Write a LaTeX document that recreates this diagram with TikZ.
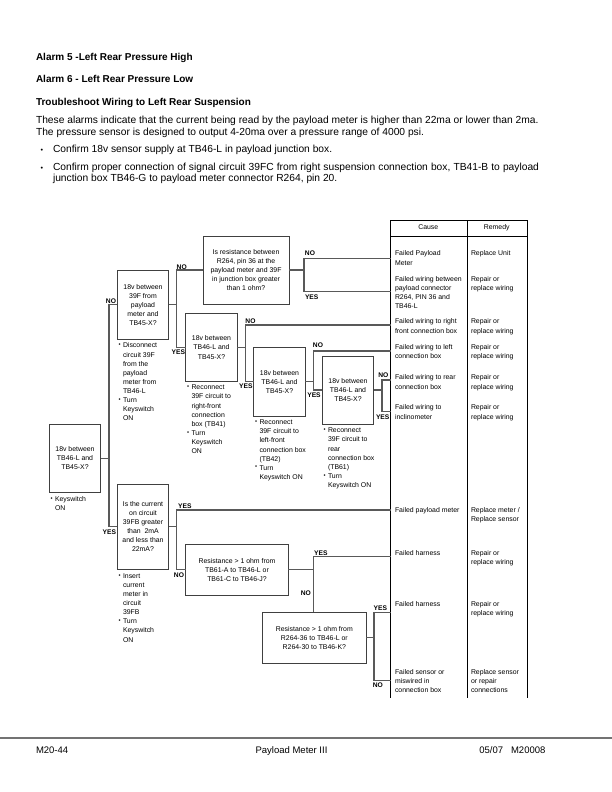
\documentclass[tikz,border=0pt]{standalone}
\usepackage{fontspec}
\setmainfont{Liberation Sans}
\usepackage{tikz}
\usetikzlibrary{positioning}
\usetikzlibrary{calc}

\newcommand{\chartfont}{\fontsize{6.9}{9.1}\selectfont}
\newcommand{\bulletmark}{\llap{\raisebox{1.3pt}{\scalebox{0.85}{\textbullet}}\hspace{2.4pt}}}

\begin{document}
\begin{tikzpicture}[x=1pt,y=-1pt,
    every node/.style={inner sep=0pt, outer sep=0pt},
    qbox/.style={draw=black!75, line width=0.8pt, align=center, font=\chartfont},
    smallq/.style={qbox, minimum width=51.4pt, minimum height=68.2pt},
    note/.style={align=left, font=\chartfont, anchor=north west},
    lab/.style={font=\bfseries\fontsize{6.7}{8}\selectfont},
    link/.style={draw=black!65, line width=1.1pt},
    tablerule/.style={draw=black, line width=0.9pt},
    titletext/.style={font=\bfseries\fontsize{10}{12}\selectfont, anchor=base west},
    bodytext/.style={font=\fontsize{10.25}{12}\selectfont, anchor=base west}]

    \useasboundingbox (0,0) rectangle (612,792);

    \node[titletext] (t1) at (36,60.8) {Alarm 5 -Left Rear Pressure High};
    \node[titletext] (t2) at (36,82.8) {Alarm 6 - Left Rear Pressure Low};
    \node[titletext] (t3) at (36,105.2) {Troubleshoot Wiring to Left Rear Suspension};

    \node[bodytext] (p1) at (36,123.5) {These alarms indicate that the current being read by the payload meter is higher than 22ma or lower than 2ma.};
    \node[bodytext] (p2) at (36,135) {The pressure sensor is designed to output 4-20ma over a pressure range of 4000 psi.};
    \node[bodytext] (d1) at (40.5,152.8) {\scalebox{0.7}{\textbullet}};
    \node[bodytext] (i1) at (53,152.8) {Confirm 18v sensor supply at TB46-L in payload junction box.};
    \node[bodytext] (d2) at (40.5,170.8) {\scalebox{0.7}{\textbullet}};
    \node[bodytext] (i2) at (53,170.8) {\hbox to 486pt{Confirm proper connection of signal circuit 39FC from right suspension connection box, TB41-B to payload}};
    \node[bodytext] (i3) at (53,181.5) {junction box TB46-G to payload meter connector R264, pin 20.};

    \node[smallq] (b1) at (75,458.3) {18v between\\TB46-L and\\TB45-X?};
    \node[smallq] (b2) at (143,304.85) {18v between\\39F from\\payload\\meter and\\TB45-X?};
    \node[qbox, minimum width=86pt, minimum height=68pt] (q1) at (246,270) {Is resistance between\\R264, pin 36 at the\\payload meter and 39F\\in junction box greater\\than 1 ohm?};
    \node[smallq] (b3) at (211.5,347.5) {18v between\\TB46-L and\\TB45-X?};
    \node[smallq] (b4) at (279.5,381.85) {18v between\\TB46-L and\\TB45-X?};
    \node[smallq] (b5) at (348,390) {18v between\\TB46-L and\\TB45-X?};
    \node[smallq, minimum height=85.3pt] (b6) at (143,526.65) {Is the current\\on circuit\\39FB greater\\than~ 2mA\\and less than\\22mA?};
    \node[qbox, minimum width=102.6pt, minimum height=51.7pt] (q2) at (237,569.85) {Resistance > 1 ohm from\\TB61-A to TB46-L or\\TB61-C to TB46-J?};
    \node[qbox, minimum width=103.3pt, minimum height=51pt] (q3) at (314.35,637.8) {Resistance > 1 ohm from\\R264-36 to TB46-L or\\R264-30 to TB46-K?};

    \node[note] (n1) at ([xshift=5.7pt,yshift=-4pt]b1.south west) {\bulletmark Keyswitch\\ON};
    \node[note] (n2) at ([xshift=5.7pt,yshift=-4pt]b2.south west) {\bulletmark Disconnect\\circuit 39F\\from the\\payload\\meter from\\TB46-L\\\bulletmark Turn\\Keyswitch\\ON};
    \node[note] (n3) at ([xshift=5.7pt,yshift=-3.5pt]b3.south west) {\bulletmark Reconnect\\39F circuit to\\right-front\\connection\\box (TB41)\\\bulletmark Turn\\Keyswitch\\ON};
    \node[note] (n4) at ([xshift=5.7pt,yshift=-4pt]b4.south west) {\bulletmark Reconnect\\39F circuit to\\left-front\\connection box\\(TB42)\\\bulletmark Turn\\Keyswitch ON};
    \node[note] (n5) at ([xshift=5.7pt,yshift=-4pt]b5.south west) {\bulletmark Reconnect\\39F circuit to\\rear\\connection box\\(TB61)\\\bulletmark Turn\\Keyswitch ON};
    \node[note] (n6) at ([xshift=5.7pt,yshift=-4.3pt]b6.south west) {\bulletmark Insert\\current\\meter in\\circuit\\39FB\\\bulletmark Turn\\Keyswitch\\ON};

    \foreach \x in {390.7,467.3,527}
        \draw[tablerule] (\x,220) -- (\x,698.3);
    \draw[tablerule] (390.7,220) -- (527,220);
    \draw[tablerule] (390.7,236) -- (527,236);
    \node[font=\chartfont] (cause) at (428.3,227.6) {Cause};
    \node[font=\chartfont] (remedy) at (496.7,227.6) {Remedy};

    \node[note] (c1) at (395,250.9) {Failed Payload\\Meter};
    \node[note] (c2) at (395,276.6) {Failed wiring between\\payload connector\\R264, PIN 36 and\\TB46-L};
    \node[note] (c3) at (395,318.9) {Failed wiring to right\\front connection box};
    \node[note] (c4) at (395,344.6) {Failed wiring to left\\connection box};
    \node[note] (c5) at (395,374.9) {Failed wiring to rear\\connection box};
    \node[note] (c6) at (395,404.9) {Failed wiring to\\inclinometer};
    \node[note] (c7) at (395,507.6) {Failed payload meter};
    \node[note] (c8) at (395,550.3) {Failed harness};
    \node[note] (c9) at (395,601.6) {Failed harness};
    \node[note] (c10) at (395,669.3) {Failed sensor or\\miswired in\\connection box};

    \node[note] (r1) at (471,250.9) {Replace Unit};
    \node[note] (r2) at (471,276.6) {Repair or\\replace wiring};
    \node[note] (r3) at (471,318.9) {Repair or\\replace wiring};
    \node[note] (r4) at (471,344.6) {Repair or\\replace wiring};
    \node[note] (r5) at (471,374.9) {Repair or\\replace wiring};
    \node[note] (r6) at (471,404.9) {Repair or\\replace wiring};
    \node[note] (r7) at (471,507.6) {Replace meter /\\Replace sensor};
    \node[note] (r8) at (471,550.3) {Repair or\\replace wiring};
    \node[note] (r9) at (471,601.6) {Repair or\\replace wiring};
    \node[note] (r10) at (471,669.3) {Replace sensor\\or repair\\connections};

    \coordinate (f1) at (390.7,258.3);
    \coordinate (f2) at (390.7,291.7);
    \coordinate (f3) at (390.7,325);
    \coordinate (f4) at (390.7,351);
    \coordinate (f5) at (390.7,380);
    \coordinate (f6) at (390.7,411.7);
    \coordinate (f7) at (390.7,510);
    \coordinate (f8) at (390.7,556.7);
    \coordinate (f9) at (390.7,612.5);
    \coordinate (f10) at (390.7,680.5);

    \coordinate (b1j) at ([xshift=8.3pt]b1.east);
    \coordinate (b2j) at ([xshift=8pt]b2.east);
    \coordinate (q1j) at ([xshift=15pt]q1.east);
    \coordinate (b3j) at ([xshift=8.7pt]b3.east);
    \coordinate (b4j) at ([xshift=8.3pt]b4.east);
    \coordinate (b5j) at ([xshift=8.3pt]b5.east);
    \coordinate (b6j) at ([xshift=8pt]b6.east);
    \coordinate (q2j) at ([xshift=25pt]q2.east);
    \coordinate (q3j) at ([xshift=8pt]q3.east);

    \draw[link] (b1.east) -- (b1j);
    \draw[link] (b2.west) -| (b1j) |- (b6.west);
    \draw[link] (b2.east) -- (b2j);
    \draw[link] (q1.west) -| (b2j) |- (b3.west);
    \draw[link] (q1.east) -- (q1j);
    \draw[link] (f1) -| (q1j) |- (f2);
    \draw[link] (b3.east) -- (b3j);
    \draw[link] (f3) -| (b3j) |- (b4.west);
    \draw[link] (b4.east) -- (b4j);
    \draw[link] (f4) -| (b4j) |- (b5.west);
    \draw[link] (b5.east) -- (b5j);
    \draw[link] (f5) -| (b5j) |- (f6);
    \draw[link] (b6.east) -- (b6j);
    \draw[link] (f7) -| (b6j) |- (q2.west);
    \draw[link] (q2.east) -- (q2j);
    \draw[link] (f8) -| (q2j) -- (q2j |- q3.north);
    \draw[link] (q3.east) -- (q3j);
    \draw[link] (f9) -| (q3j) |- (f10);

    \node[lab] (b1no) at (111,301) {NO};
    \node[lab] (b1yes) at (109.4,532.3) {YES};
    \node[lab] (b2no) at (181.7,266.7) {NO};
    \node[lab] (b2yes) at (178.4,352) {YES};
    \node[lab] (q1no) at (310,253.3) {NO};
    \node[lab] (q1yes) at (311.7,297.3) {YES};
    \node[lab] (b3no) at (250.5,321) {NO};
    \node[lab] (b3yes) at (245.9,386) {YES};
    \node[lab] (b4no) at (318,345) {NO};
    \node[lab] (b4yes) at (314,395) {YES};
    \node[lab] (b5no) at (383.3,375) {NO};
    \node[lab] (b5yes) at (382.7,416.7) {YES};
    \node[lab] (b6yes) at (184.9,505.7) {YES};
    \node[lab] (b6no) at (179,575) {NO};
    \node[lab] (q2yes) at (320.9,553.3) {YES};
    \node[lab] (q2no) at (305.9,592.7) {NO};
    \node[lab] (q3yes) at (380.3,608.3) {YES};
    \node[lab] (q3no) at (377.9,685) {NO};

    \draw[draw=black!55, line width=1.6pt] (0,737.7) -- (612,737.7);
    \node[font=\fontsize{9.5}{11}\selectfont, anchor=base west] (ft1) at (36,753.3) {M20-44};
    \node[font=\fontsize{9.5}{11}\selectfont, anchor=base west] (ft2) at (255.6,753.3) {Payload Meter III};
    \node[font=\fontsize{9.5}{11}\selectfont, anchor=base west] (ft3) at (479.3,753.3) {05/07\hspace{8pt}M20008};
\end{tikzpicture}
\end{document}
